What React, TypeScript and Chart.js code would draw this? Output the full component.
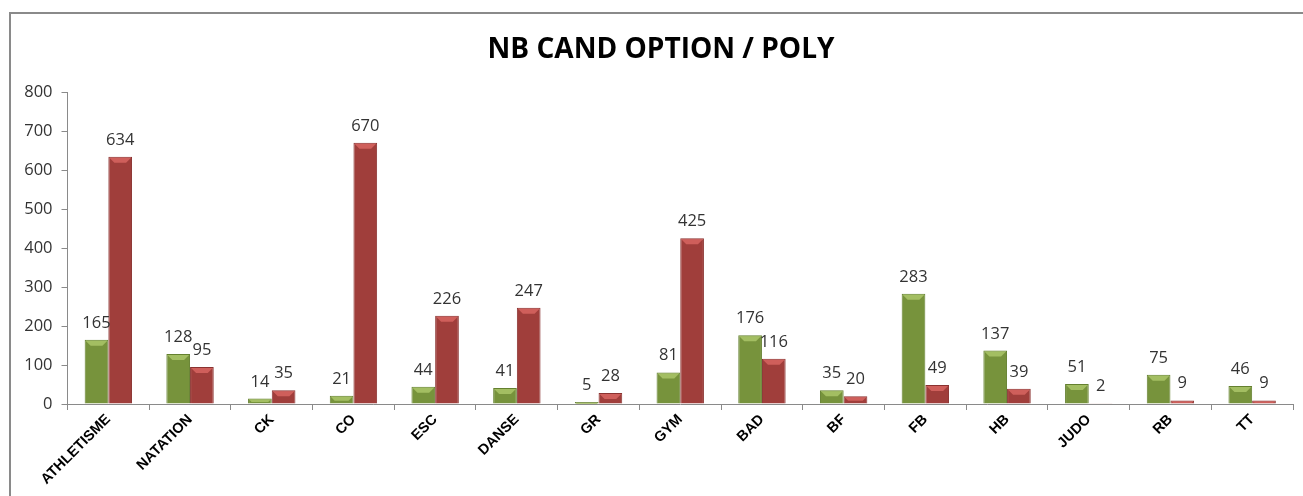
import React, { useEffect, useRef } from "react";
import { Chart, registerables } from "chart.js";

Chart.register(...registerables);

const categories = ["ATHLETISME", "NATATION", "CK", "CO", "ESC", "DANSE", "GR", "GYM", "BAD", "BF", "FB", "HB", "JUDO", "RB", "TT"];
const optionValues = [165, 128, 14, 21, 44, 41, 5, 81, 176, 35, 283, 137, 51, 75, 46];
const polyValues = [634, 95, 35, 670, 226, 247, 28, 425, 116, 20, 49, 39, 2, 9, 9];
const yTicks = [0, 100, 200, 300, 400, 500, 600, 700, 800];
const titleText = "NB CAND OPTION / POLY";

const GREEN = "#77933C";
const GREEN_LIGHT = "#A3BE62";
const GREEN_DARK = "#64802F";
const RED = "#A03E3B";
const RED_LIGHT = "#CF5F5B";
const RED_DARK = "#8A3230";

const framePlugin = {
  id: "frame",
  beforeDraw(chart: any) {
    const { ctx, width, height } = chart;
    ctx.save();
    ctx.fillStyle = "#ffffff";
    ctx.fillRect(0, 0, width, height);
    ctx.strokeStyle = "#8a8a8a";
    ctx.lineWidth = 2;
    ctx.beginPath();
    ctx.moveTo(10, height);
    ctx.lineTo(10, 13);
    ctx.lineTo(width, 13);
    ctx.stroke();
    ctx.restore();
  },
  afterDraw(chart: any) {
    const { ctx } = chart;
    ctx.save();
    ctx.font = 'bold 28px "Open Sans"';
    const w = ctx.measureText(titleText).width;
    const sx = 347 / w;
    ctx.translate(661, 50);
    ctx.scale(sx, 1);
    ctx.fillStyle = "#000";
    ctx.textAlign = "center";
    ctx.textBaseline = "middle";
    ctx.fillText(titleText, 0, 0);
    ctx.restore();
  },
};

const barDecorPlugin = {
  id: "barDecor",
  afterDatasetsDraw(chart: any) {
    const { ctx } = chart;
    chart.data.datasets.forEach((ds: any, di: number) => {
      const meta = chart.getDatasetMeta(di);
      const light = di === 0 ? GREEN_LIGHT : RED_LIGHT;
      meta.data.forEach((bar: any, i: number) => {
        const { x, y, base, width } = bar.getProps(["x", "y", "base", "width"], true);
        const left = x - width / 2;
        const right = x + width / 2;
        const h = base - y;
        const bev = Math.min(5, h / 2);
        ctx.save();
        if (h > 1) {
          ctx.fillStyle = light;
          ctx.beginPath();
          ctx.moveTo(left + 1, y + 1);
          ctx.lineTo(right - 1, y + 1);
          ctx.lineTo(right - 1 - bev, y + 1 + bev);
          ctx.lineTo(left + 1 + bev, y + 1 + bev);
          ctx.closePath();
          ctx.fill();
        }
        ctx.fillStyle = "#333333";
        ctx.font = '16.5px "Open Sans"';
        ctx.textAlign = "center";
        ctx.textBaseline = "alphabetic";
        ctx.fillText(String(ds.data[i]), x, y - 12);
        ctx.restore();
      });
    });
  },
};

export default function App() {
  const ref = useRef<HTMLCanvasElement | null>(null);
  useEffect(() => {
    if (!ref.current) return;
    const chart = new Chart(ref.current, {
      type: "bar",
      data: {
        labels: categories,
        datasets: [
          {
            label: "OPTION",
            data: optionValues,
            backgroundColor: GREEN,
            borderColor: GREEN_DARK,
            borderWidth: 1,
            categoryPercentage: 0.58,
            barPercentage: 1,
          },
          {
            label: "POLY",
            data: polyValues,
            backgroundColor: RED,
            borderColor: RED_DARK,
            borderWidth: 1,
            categoryPercentage: 0.58,
            barPercentage: 1,
          },
        ],
      },
      options: {
        animation: false,
        responsive: true,
        maintainAspectRatio: false,
        layout: { padding: { top: 92, right: 10, bottom: 0, left: 0 } },
        plugins: {
          legend: { display: false },
          title: { display: false },
          tooltip: { enabled: false },
        },
        scales: {
          x: {
            grid: {
              display: true,
              drawOnChartArea: false,
              drawTicks: true,
              tickLength: 6,
              color: "#8a8a8a",
              offset: true,
            },
            border: { display: true, color: "#8a8a8a", width: 1 },
            ticks: {
              maxRotation: 45,
              minRotation: 45,
              autoSkip: false,
              padding: 1,
              color: "#000",
              font: { family: '"Liberation Sans", Arial, sans-serif', weight: "bold", size: 14.5 },
            },
            afterFit(scale: any) {
              scale.height = 92;
            },
          },
          y: {
            min: 0,
            max: 800,
            afterBuildTicks(scale: any) {
              scale.ticks = yTicks.map((v) => ({ value: v }));
            },
            grid: {
              display: true,
              drawOnChartArea: false,
              drawTicks: true,
              tickLength: 6,
              color: "#8a8a8a",
            },
            border: { display: true, color: "#8a8a8a", width: 1 },
            ticks: {
              padding: 9,
              color: "#333333",
              font: { family: '"Open Sans", sans-serif', size: 16.5 },
            },
            afterFit(scale: any) {
              scale.width = 67.5;
            },
          },
        },
      },
      plugins: [framePlugin, barDecorPlugin],
    });
    return () => chart.destroy();
  }, []);
  return (
    <div style={{ position: "fixed", left: 0, top: 0, width: "1303px", height: "496px", background: "#fff" }}>
      <canvas ref={ref} />
    </div>
  );
}
